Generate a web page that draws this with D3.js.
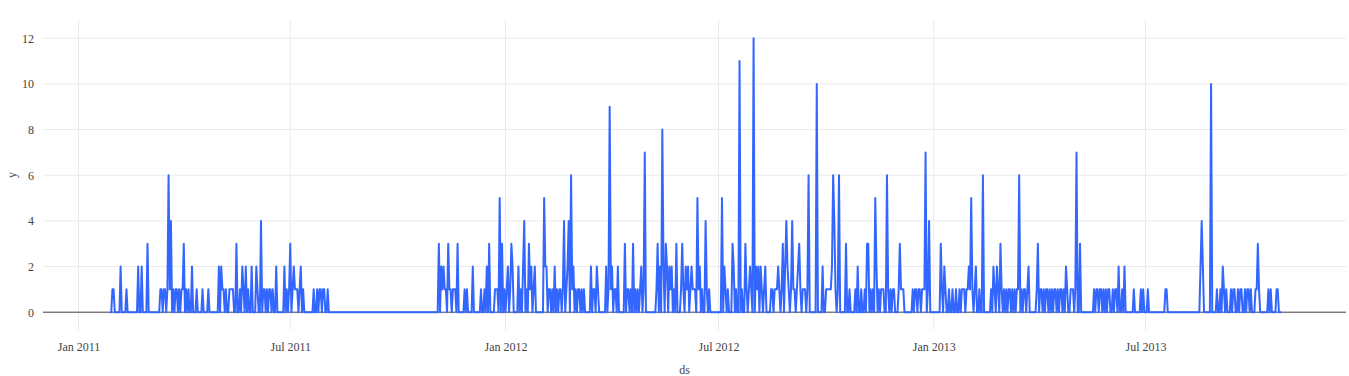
<!DOCTYPE html>
<html>
<head>
<meta charset="utf-8">
<script src="https://cdn.jsdelivr.net/npm/d3@7"></script>
<style>
  body { margin: 0; background: #fff; }
  svg text { font-family: "Liberation Serif", "Times New Roman", Times, serif; }
</style>
</head>
<body>
<script>
// daily values, one per day starting on the first date of each array
var start2011 = "2011-01-28";
var values2011 = [
  0,0,1,1,0,0,0,0,0,2, 0,0,0,0,1,0,0,0,0,0, 0,0,0,0,2,0,0,2,0,0, 0,0,3,0,0,0,0,0,0,0,
  0,0,0,1,1,0,1,1,0,1, 6,1,4,0,1,0,1,1,0,1, 0,1,1,3,0,1,0,1,0,0, 2,0,0,0,1,0,0,0,0,1,
  0,0,0,0,1,0,0,0,0,0, 0,0,0,2,0,2,1,1,0,1, 0,0,1,1,1,1,0,0,3,0, 0,1,0,2,1,0,2,0,1,0,
  0,2,0,0,0,2,1,0,0,4, 0,1,1,0,1,0,1,1,0,1, 0,0,2,0,0,0,0,0,0,2, 0,1,0,1,3,0,1,2,1,1,
  1,0,1,2,0,1,0,0,0,0, 0,0,0,0,1,0,0,1,0,1, 1,0,1,1,0,0,1,0,0,0,
  0,0,0,0,0,0,0,0,0,0, 0,0,0,0,0,0,0,0,0,0, 0,0,0,0,0,0,0,0,0,0, 0,0,0,0,0,0,0,0,0,0,
  0,0,0,0,0,0,0,0,0,0, 0,0,0,0,0,0,0,0,0,0, 0,0,0,0,0,0,0,0,0,0, 0,0,0,0,0,0,0,0,0,0,
  0,0,0,0,0,0,0,0,0,0,
  0,3,0,2,1,2,1,1,0,3, 1,1,0,1,1,1,0,3,0,0, 0,0,0,1,0,1,0,0,0,0, 2,0,0,0,0,0,0,1,0,0,
  1,0,2,0,3,0,0,0,0,1, 1,1,0,5,0,3,0,1
];
var start2012 = "2012-01-01";
var values2012 = [
  0,1,2,0,1,3,2,0,0,0, 0,2,0,1,0,2,4,0,1,0, 3,1,2,0,1,2,0,0,0,0, 0,0,0,5,2,2,0,1,1,0,
  1,0,2,0,1,0,1,1,0,1, 4,0,1,2,4,0,6,1,2,0, 1,0,1,1,0,1,0,1,0,0, 0,0,0,2,0,1,1,0,2,1,
  0,0,0,0,0,0,2,0,1,9, 1,2,0,1,1,0,2,0,0,0, 0,0,3,0,1,1,0,1,0,3, 0,1,0,1,0,1,2,0,1,7,
  0,0,0,0,0,0,0,0,0,1, 3,0,2,0,8,2,0,3,2,0, 2,1,2,0,1,0,3,0,0,0, 1,3,1,0,2,1,2,0,1,2,
  1,1,1,0,5,1,2,0,1,0, 0,4,1,0,1,0,0,0,0,0, 0,0,0,0,0,5,0,2,1,0, 1,0,0,0,3,2,0,1,0,0,
  11,0,1,0,0,3,1,0,1,2, 1,0,12,0,2,1,2,0,2,1, 0,1,2,0,0,0,0,1,1,0, 1,1,1,2,1,0,1,3,0,2,
  4,2,1,0,1,4,1,1,0,1, 2,3,1,0,1,1,1,0,1,6, 0,0,0,0,0,0,10,0,0,0, 0,2,0,0,1,1,1,1,1,2,
  6,4,1,0,1,6,0,0,0,0, 0,3,0,0,1,0,0,0,0,1, 0,2,0,0,1,0,0,1,0,3, 3,0,1,0,1,0,5,2,0,1,
  0,1,1,1,0,0,6,1,0,1, 0,1,1,0,0,0,1,3,1,1, 1,0,0,0,0,0,0,0,1,0, 1,1,0,1,1,0,1,1,1,7,
  0,1,4,0,0,0
];
var start2013 = "2013-01-01";
var values2013 = [
  0,0,0,0,0,0,3,1,0,2, 1,0,0,1,0,0,1,0,0,1, 0,0,1,0,1,1,1,0,1,1, 2,1,5,1,0,1,2,0,0,1,
  0,0,6,0,0,0,0,0,0,1, 0,2,1,0,2,1,0,3,1,0, 1,0,1,0,1,1,0,1,0,1, 0,1,1,6,0,1,0,1,1,0,
  1,2,0,0,0,0,0,0,1,3, 0,1,1,0,1,0,1,1,0,1, 0,1,0,1,1,0,1,0,1,1, 0,1,0,2,1,0,0,1,1,1,
  0,1,7,0,0,3,0,0,0,0, 0,0,0,0,0,0,0,1,0,1, 1,0,1,1,0,1,0,1,0,1, 1,0,0,1,0,1,1,0,2,0,
  0,1,0,2,0,0,0,0,0,0, 0,1,0,0,0,0,0,1,0,1, 0,0,0,1,0,0,0,0,0,0, 0,0,0,0,0,0,0,0,1,1,
  0,0,0,0,0,0,0,0,0,0, 0,0,0,0,0,0,0,0,0,0, 0,0,0,0,0,0,0,0,2,4, 2,0,0,0,0,0,0,10,0,0,
  0,0,1,0,0,1,0,2,1,0, 1,0,0,0,1,0,1,1,0,0, 1,0,1,1,0,0,1,0,1,1, 0,1,0,0,0,1,1,3,1,0,
  0,0,0,0,0,0,1,0,1,0, 0,0,0,1,1,0,0,0
];

// axis settings
var xRange = ["2010-12-01T16:00", "2013-12-19T08:00"];
var yRange = [-0.78, 12.8];
var yTicks = [0, 2, 4, 6, 8, 10, 12];
var xTitle = "ds", yTitle = "y";

var FONT = "'Liberation Serif', 'Times New Roman', Times, serif";

var W = 1349, H = 376;
var margin = {top: 20, right: 3, bottom: 46, left: 43},
    width = W - margin.left - margin.right,
    height = H - margin.top - margin.bottom;

var parse = d3.isoParse;
var data = [];
[[start2011, values2011], [start2012, values2012], [start2013, values2013]].forEach(function(s) {
  var d0 = parse(s[0]);
  s[1].forEach(function(v, i) {
    data.push({ds: d3.timeDay.offset(d0, i), y: v});
  });
});

var x = d3.scaleTime().domain(xRange.map(function(d) { return parse(d); })).range([0, width]);
var y = d3.scaleLinear().domain(yRange).range([height, 0]);

var svg = d3.select("body").append("svg")
    .attr("width", W).attr("height", H)
  .append("g")
    .attr("transform", "translate(" + margin.left + "," + margin.top + ")");

var xTickVals = d3.timeMonth.every(6).range(parse("2011-01-01"), parse("2014-01-01"));

// grid
svg.append("g").selectAll("line").data(yTicks).enter().append("line")
    .attr("x1", 0).attr("x2", width)
    .attr("y1", function(d) { return y(d); }).attr("y2", function(d) { return y(d); })
    .attr("stroke", "#ebebeb").attr("stroke-width", 1);
svg.append("g").selectAll("line").data(xTickVals).enter().append("line")
    .attr("x1", function(d) { return x(d); }).attr("x2", function(d) { return x(d); })
    .attr("y1", 0).attr("y2", height)
    .attr("stroke", "#ebebeb").attr("stroke-width", 1);

// zero line
svg.append("line")
    .attr("x1", 0).attr("x2", width)
    .attr("y1", y(0)).attr("y2", y(0))
    .attr("stroke", "#444").attr("stroke-width", 1);

// axes
var xAxis = d3.axisBottom(x).tickValues(xTickVals).tickFormat(d3.timeFormat("%b %Y")).tickSize(0).tickPadding(12);
svg.append("g").attr("transform", "translate(0," + height + ")").call(xAxis)
    .attr("font-family", FONT).attr("font-size", 12)
    .call(function(g) { g.select(".domain").remove(); })
    .selectAll("text").attr("fill", "#444");

var yAxis = d3.axisLeft(y).tickValues(yTicks).tickSize(0).tickPadding(9);
svg.append("g").call(yAxis)
    .attr("font-family", FONT).attr("font-size", 12)
    .call(function(g) { g.select(".domain").remove(); })
    .selectAll("text").attr("fill", "#444");

// line
var valueline = d3.line()
    .x(function(d) { return x(d.ds); })
    .y(function(d) { return y(d.y); });

svg.append("path")
    .datum(data)
    .attr("fill", "none")
    .attr("stroke", "#3366ff")
    .attr("stroke-width", 2)
    .attr("stroke-linejoin", "round")
    .attr("d", valueline);

// titles
svg.append("text")
    .attr("x", width / 2 - 10).attr("y", height + 44)
    .attr("text-anchor", "middle")
    .attr("font-family", FONT).attr("font-size", 12).attr("fill", "#444")
    .text(xTitle);
svg.append("text")
    .attr("transform", "rotate(-90)")
    .attr("x", -(175 - margin.top)).attr("y", -margin.left + 16)
    .attr("text-anchor", "middle")
    .attr("font-family", FONT).attr("font-size", 12).attr("fill", "#444")
    .text(yTitle);
</script>
</body>
</html>
